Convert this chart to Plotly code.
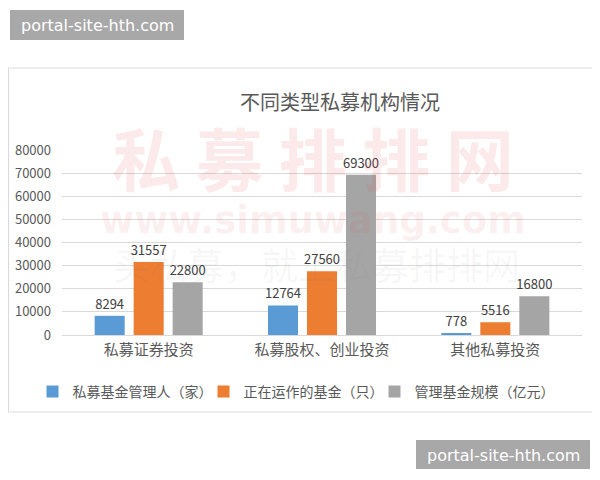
import plotly.graph_objects as go

categories = ["私募证券投资", "私募股权、创业投资", "其他私募投资"]
series_names = ["私募基金管理人（家）", "正在运作的基金（只）", "管理基金规模（亿元）"]
managers = [8294, 12764, 778]
funds = [31557, 27560, 5516]
scale = [22800, 69300, 16800]
colors = ["#5B9BD5", "#ED7D31", "#A5A5A5"]
y_ticks = [0, 10000, 20000, 30000, 40000, 50000, 60000, 70000, 80000]

# page is offset by the 8px body margin; figure pixel = page pixel - 8
OFF = 8
W, H = 600 - OFF, 480 - OFF
L, R, T, B = 62 - OFF, 582 - OFF, 150 - OFF, 335 - OFF  # plot area in figure pixels

def px_x(p):  # p in page pixels
    return (p - OFF - L) / (R - L)

def px_y(p):
    return (B - (p - OFF)) / (B - T)

FONT = "Noto Sans CJK SC, Noto Sans, sans-serif"

fig = go.Figure()
for name, vals, col in zip(series_names, [managers, funds, scale], colors):
    fig.add_trace(go.Bar(
        x=categories, y=vals, name=name,
        marker=dict(color=col, line=dict(width=0)),
        text=[str(v) for v in vals], textposition="outside",
        constraintext="none",
        textfont=dict(size=13, color="#404040", family=FONT),
        cliponaxis=False,
    ))

shapes = [
    dict(type="rect", xref="paper", yref="paper",
         x0=px_x(8.5), x1=px_x(597.5), y0=px_y(412), y1=px_y(68),
         line=dict(color="#D9D9D9", width=1), fillcolor="rgba(0,0,0,0)", layer="below"),
    dict(type="rect", xref="paper", yref="paper",
         x0=px_x(10), x1=px_x(184), y0=px_y(40), y1=px_y(10),
         line=dict(width=0), fillcolor="#A8A8A8", layer="above"),
    dict(type="rect", xref="paper", yref="paper",
         x0=px_x(416), x1=px_x(590), y0=px_y(469), y1=px_y(440),
         line=dict(width=0), fillcolor="#A8A8A8", layer="above"),
]

def ann(text, x, y, size, color, family):
    return dict(text=text, xref="paper", yref="paper", x=px_x(x), y=px_y(y),
                xanchor="center", yanchor="middle", showarrow=False,
                font=dict(size=size, color=color, family=family))

annotations = [
    ann("<b>私 募 排 排 网</b>", 313, 156, 68, "rgba(230,70,80,0.12)", FONT),
    ann("<b>www.simuwang.com</b>", 313, 220, 37, "rgba(220,90,100,0.09)", "DejaVu Sans, sans-serif"),
    ann("买私募，就上私募排排网", 316, 264, 37, "rgba(120,120,120,0.06)", FONT),
    ann("portal-site-hth.com", 97, 25, 16, "white", "DejaVu Sans, sans-serif"),
    ann("portal-site-hth.com", 503, 455, 16, "white", "DejaVu Sans, sans-serif"),
]

fig.update_layout(
    template="none",
    width=W, height=H,
    paper_bgcolor="white", plot_bgcolor="rgba(0,0,0,0)",
    margin=dict(l=L, r=W - R, t=T, b=H - B, pad=0, autoexpand=False),
    title=dict(text="不同类型私募机构情况", x=(340 - OFF) / W, y=1 - (103 - OFF) / H,
               xanchor="center", yanchor="middle",
               font=dict(size=20, color="#595959", family=FONT)),
    barmode="group", bargap=0.325, bargroupgap=0.23,
    showlegend=True,
    legend=dict(orientation="h", xref="container", yref="container",
                x=(289 - OFF) / W, xanchor="center", y=1 - (392 - OFF) / H, yanchor="middle",
                font=dict(size=14, color="#595959", family=FONT),
                itemwidth=30, entrywidth=126, entrywidthmode="pixels",
                tracegroupgap=0, bgcolor="rgba(0,0,0,0)", borderwidth=0),
    font=dict(family=FONT, color="#595959"),
    shapes=shapes, annotations=annotations,
)
fig.update_yaxes(range=[0, 80000], tickvals=y_ticks, ticktext=[str(v) for v in y_ticks],
                 automargin=False,
                 showgrid=True, gridcolor="#D9D9D9", gridwidth=1,
                 zeroline=True, zerolinecolor="#D9D9D9", zerolinewidth=1,
                 showline=False, ticks="", ticklabelstandoff=10,
                 tickfont=dict(size=13, color="#595959", family=FONT))
fig.update_xaxes(automargin=False, showline=False, ticks="", showgrid=False,
                 ticklabelstandoff=4,
                 tickfont=dict(size=15, color="#595959", family=FONT))

fig.write_html("out.html")
